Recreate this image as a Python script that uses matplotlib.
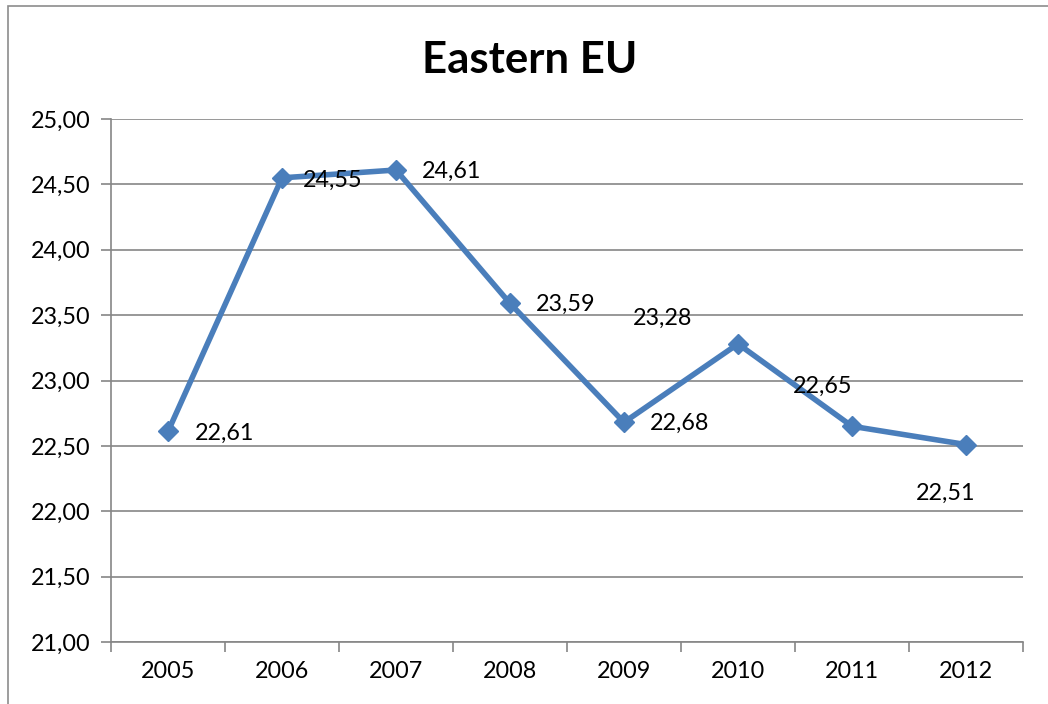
import matplotlib.pyplot as plt
from matplotlib.patches import Rectangle

# data
years = ['2005', '2006', '2007', '2008', '2009', '2010', '2011', '2012']
values = [22.61, 24.55, 24.61, 23.59, 22.68, 23.28, 22.65, 22.51]
y_ticks = [21.0, 21.5, 22.0, 22.5, 23.0, 23.5, 24.0, 24.5, 25.0]

# label offsets in pixels (dx, dy), as placed in the original
label_offsets = [(57, -2), (51, -3), (56, -1), (56, -1),
                 (56, -1), (-75, 26), (-29, 40), (-20, -49)]

plt.rcParams['font.family'] = ['Lato', 'DejaVu Sans']
FS = 16.8

fig = plt.figure(figsize=(10.48, 7.04), dpi=100)
fig.patches.append(Rectangle((8 / 1048, -0.1), 1.2, 1.1 - 6 / 704, transform=fig.transFigure,
                             fill=False, edgecolor='#8c8c8c', linewidth=1.2))

ax = fig.add_axes([111 / 1048, 1 - 642 / 704, 912 / 1048, 523 / 704])

x = list(range(len(years)))
ax.plot(x, values, color='#4A7EBB', linewidth=4, marker='D', markersize=10.5,
        markerfacecolor='#4A7EBB', markeredgecolor='#4A7EBB', zorder=3)

for xi, v, (dx, dy) in zip(x, values, label_offsets):
    ax.annotate(f'{v:.2f}'.replace('.', ','), (xi, v), xytext=(dx, dy),
                textcoords='offset pixels', ha='center', va='center', fontsize=FS)

ax.set_xlim(-0.5, len(years) - 0.5)
ax.set_ylim(21, 25)
ax.set_yticks(y_ticks)
ax.set_yticklabels([f'{t:.2f}'.replace('.', ',') for t in y_ticks], fontsize=FS)
ax.set_xticks(x)
ax.set_xticklabels(years, fontsize=FS)
ax.set_xticks([i - 0.5 for i in range(len(years) + 1)], minor=True)
ax.tick_params(axis='x', which='major', length=0, pad=14)
ax.tick_params(axis='x', which='minor', length=7, color='#868686', width=1.2)
ax.tick_params(axis='y', length=7, color='#868686', width=1.2, pad=8)

ax.grid(axis='y', color='#868686', linewidth=1.2)
ax.set_axisbelow(True)
for s in ['top', 'right']:
    ax.spines[s].set_visible(False)
for s in ['left', 'bottom']:
    ax.spines[s].set_color('#868686')
    ax.spines[s].set_linewidth(1.2)

fig.text(530 / 1048, 1 - 60 / 704, 'Eastern EU', ha='center', va='center',
         fontsize=31.5, fontweight='bold')

fig.savefig('out.png', dpi=100)
